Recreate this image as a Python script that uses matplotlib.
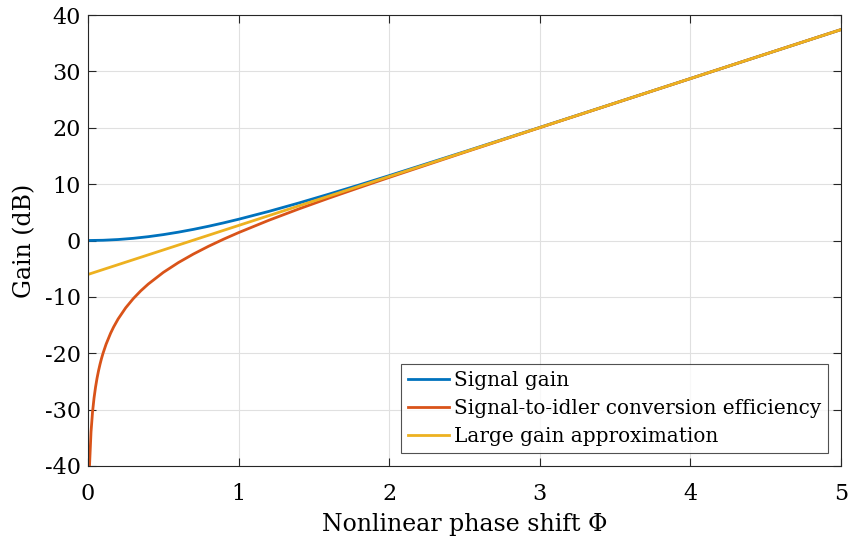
import matplotlib
matplotlib.use("Agg")
import matplotlib.pyplot as plt

plt.rcParams['font.family'] = ['DejaVu Serif']
plt.rcParams['axes.unicode_minus'] = False

phi_signal = [0, 0.1, 0.2, 0.3, 0.4, 0.5, 0.6, 0.7, 0.8, 0.9, 1.0, 1.2, 1.4, 1.6, 1.8, 2.0, 2.5, 3.0, 3.5, 4.0, 4.5, 5.0]
signal_gain = [0, 0.043, 0.173, 0.385, 0.677, 1.043, 1.478, 1.974, 2.525, 3.125, 3.768, 5.157, 6.652, 8.224, 9.848, 11.509, 15.752, 20.059, 24.388, 28.726, 33.067, 37.409]

phi_idler = [0.01, 0.02, 0.03, 0.04, 0.05, 0.06, 0.07, 0.08, 0.09, 0.1, 0.12, 0.15, 0.17, 0.2, 0.25, 0.3, 0.35, 0.4, 0.5, 0.6, 0.7, 0.8, 0.9, 1.0, 1.2, 1.4, 1.6, 1.8, 2.0, 2.5, 3.0, 3.5, 4.0, 4.5, 5.0]
idler_eff = [-40.0, -33.98, -30.46, -27.96, -26.02, -24.43, -23.09, -21.93, -20.90, -19.99, -18.40, -16.45, -15.35, -13.92, -11.95, -10.33, -8.94, -7.73, -5.66, -3.92, -2.40, -1.03, 0.23, 1.40, 3.58, 5.60, 7.52, 9.37, 11.19, 15.64, 20.02, 24.37, 28.72, 33.07, 37.41]

phi_approx = [0, 5]
approx_gain = [-6.02, 37.41]

labels = ["Signal gain", "Signal-to-idler conversion efficiency", "Large gain approximation"]
colors = ["#0072BD", "#D95319", "#EDB120"]

fig = plt.figure(figsize=(8.48, 5.42), dpi=100)
ax = fig.add_axes([88/848, 1-466/542, (841-88)/848, (466-15)/542])
ax.plot(phi_signal, signal_gain, color=colors[0], lw=2.0, label=labels[0])
ax.plot(phi_idler, idler_eff, color=colors[1], lw=2.0, label=labels[1])
ax.plot(phi_approx, approx_gain, color=colors[2], lw=2.0, label=labels[2])

ax.set_xlim(0, 5)
ax.set_ylim(-40, 40)
ax.set_xticks([0, 1, 2, 3, 4, 5])
ax.set_yticks(range(-40, 41, 10))
ax.grid(True, color="#e0e0e0", lw=0.8)
ax.set_axisbelow(True)
for s in ax.spines.values():
    s.set_color("#262626")
    s.set_linewidth(0.8)
ax.tick_params(direction="in", length=6, width=0.8, top=True, right=True, labelsize=16, color="#262626")
ax.tick_params(axis="x", pad=12)
ax.tick_params(axis="y", pad=5)
ax.set_xlabel("Nonlinear phase shift Φ", fontsize=17, labelpad=6)
ax.set_ylabel("Gain (dB)", fontsize=17, labelpad=6)

leg = ax.legend(loc="lower right", fontsize=14.4, frameon=True, fancybox=False, edgecolor="#262626",
                handlelength=2.05, handletextpad=0.25, borderpad=0.35, labelspacing=0.45,
                borderaxespad=0.65)
leg.get_frame().set_linewidth(0.8)

fig.savefig("out.png", dpi=100)
